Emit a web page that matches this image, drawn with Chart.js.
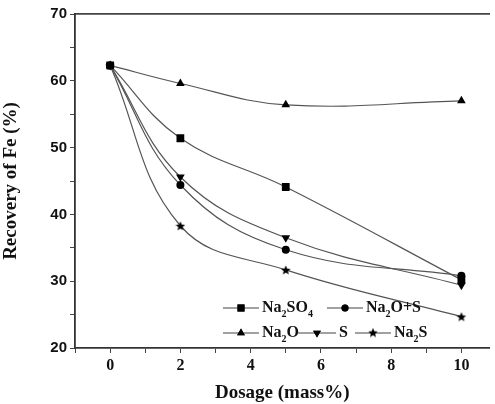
<!DOCTYPE html>
<html>
<head>
    <meta charset="UTF-8">
    <title>Recovery of Fe</title>
    <script src="https://cdn.jsdelivr.net/npm/chart.js"></script>
    <style>
        html, body { margin: 0; padding: 0; background: #fff; }
        #wrap { width: 495px; height: 404px; }
    </style>
</head>
<body>
    <div id="wrap"><canvas id="feChart"></canvas></div>

    <script>
        // 数据
        var dosage = [0, 2, 5, 10];
        var seriesNames = ['Na2SO4', 'Na2O+S', 'Na2O', 'S', 'Na2S'];
        var na2so4 = [62.3, 51.4, 44.1, 30.2];
        var na2oS = [62.3, 44.4, 34.7, 30.8];
        var na2o = [62.3, 59.6, 56.4, 57.0];
        var sulfur = [62.3, 45.6, 36.5, 29.4];
        var na2s = [62.3, 38.3, 31.7, 24.7];
        var yTicks = [20, 30, 40, 50, 60, 70];
        var xTicks = [0, 2, 4, 6, 8, 10];

        // 五角星点样式
        function makeStar(size) {
            var c = document.createElement('canvas');
            c.width = size; c.height = size;
            var g = c.getContext('2d');
            var cx = size / 2, cy = size / 2 + 0.5, ro = size / 2, ri = ro * 0.45;
            g.beginPath();
            for (var i = 0; i < 10; i++) {
                var r = i % 2 === 0 ? ro : ri;
                var a = -Math.PI / 2 + i * Math.PI / 5;
                g.lineTo(cx + r * Math.cos(a), cy + r * Math.sin(a));
            }
            g.closePath();
            g.fillStyle = '#000';
            g.fill();
            return c;
        }
        var starImg = makeStar(10);

        var markers = [
            { style: 'rect', rot: 0, r: 5.5 },
            { style: 'circle', rot: 0, r: 4 },
            { style: 'triangle', rot: 0, r: 5 },
            { style: 'triangle', rot: 180, r: 5 },
            { style: starImg, rot: 0, r: 5 }
        ];
        var allValues = [na2so4, na2oS, na2o, sulfur, na2s];

        var datasets = allValues.map(function (vals, i) {
            return {
                label: seriesNames[i],
                data: dosage.map(function (d, j) { return { x: d, y: vals[j] }; }),
                borderColor: '#555',
                borderWidth: 1.2,
                backgroundColor: '#000',
                pointBackgroundColor: '#000',
                pointBorderColor: '#000',
                pointBorderWidth: 0,
                pointStyle: markers[i].style,
                pointRotation: markers[i].rot,
                pointRadius: markers[i].r,
                tension: 0.4
            };
        });

        // 带下标的文字
        function drawRich(ctx, name, x, y) {
            ctx.textBaseline = 'middle';
            ctx.textAlign = 'left';
            for (var k = 0; k < name.length; k++) {
                var ch = name[k];
                if (/[0-9]/.test(ch)) {
                    ctx.font = 'bold 10px "Liberation Serif", serif';
                    ctx.fillText(ch, x, y + 6);
                } else {
                    ctx.font = 'bold 16px "Liberation Serif", serif';
                    ctx.fillText(ch, x, y);
                }
                x += ctx.measureText(ch).width;
            }
        }
        function drawMarker(ctx, i, x, y) {
            var m = markers[i];
            ctx.save();
            ctx.fillStyle = '#000';
            ctx.strokeStyle = '#000';
            if (m.style === starImg) {
                ctx.drawImage(starImg, x - 5, y - 5.5);
            } else {
                Chart.helpers.drawPoint(ctx, {
                    pointStyle: m.style, rotation: m.rot, radius: m.r - 0.5, borderWidth: 0
                }, x, y);
                ctx.fill();
            }
            ctx.restore();
        }

        // 图内图例
        var legendRows = [
            { y: 308, items: [[0, 223], [1, 327]] },
            { y: 333, items: [[2, 223], [3, 298], [4, 355]] }
        ];
        var insideLegend = {
            id: 'insideLegend',
            afterDatasetsDraw: function (chart) {
                var ctx = chart.ctx;
                ctx.save();
                legendRows.forEach(function (row) {
                    row.items.forEach(function (it) {
                        var i = it[0], x0 = it[1];
                        var lineLen = i === 3 ? 38 : 36;
                        ctx.strokeStyle = '#444';
                        ctx.lineWidth = 1.2;
                        ctx.beginPath();
                        ctx.moveTo(x0, row.y);
                        ctx.lineTo(x0 + lineLen, row.y);
                        ctx.stroke();
                        drawMarker(ctx, i, x0 + lineLen / 2, row.y);
                        ctx.fillStyle = '#111';
                        drawRich(ctx, seriesNames[i], x0 + lineLen + 3, row.y);
                    });
                });
                ctx.restore();
            }
        };

        var ctx = document.getElementById('feChart').getContext('2d');
        var feChart = new Chart(ctx, {
            type: 'line',
            data: { datasets: datasets },
            options: {
                responsive: true,
                maintainAspectRatio: false,
                animation: false,
                layout: { padding: 0 },
                plugins: {
                    legend: { display: false },
                    tooltip: { enabled: false }
                },
                scales: {
                    x: {
                        type: 'linear',
                        position: 'bottom',
                        min: -1,
                        max: 10.8,
                        afterBuildTicks: function (s) {
                            var t = [];
                            for (var v = -1; v <= 10; v++) t.push({ value: v });
                            s.ticks = t;
                        },
                        afterFit: function (s) { s.height = 56; },
                        grid: {
                            drawOnChartArea: false,
                            drawTicks: true,
                            tickLength: 5,
                            tickColor: '#444'
                        },
                        border: { display: true, color: '#333', width: 1.8 },
                        ticks: {
                            autoSkip: false,
                            maxRotation: 0,
                            padding: 3,
                            color: '#111',
                            font: { family: '"Liberation Serif", serif', weight: 'bold', size: 16 },
                            callback: function (v) { return xTicks.indexOf(v) >= 0 ? String(v) : ''; }
                        },
                        title: {
                            display: true,
                            text: 'Dosage (mass%)',
                            color: '#111',
                            font: { family: '"Liberation Serif", serif', weight: 'bold', size: 19 },
                            padding: { top: 2, bottom: 0 }
                        }
                    },
                    xTop: {
                        type: 'linear',
                        position: 'top',
                        min: -1,
                        max: 10.8,
                        afterFit: function (s) { s.height = 14; },
                        grid: { drawOnChartArea: false, drawTicks: false },
                        border: { display: true, color: '#444', width: 1.8 },
                        ticks: { display: false }
                    },
                    y: {
                        type: 'linear',
                        min: 20,
                        max: 70,
                        afterBuildTicks: function (s) {
                            var t = [];
                            for (var v = 20; v <= 70; v += 5) t.push({ value: v });
                            s.ticks = t;
                        },
                        afterFit: function (s) { s.width = 75; },
                        grid: {
                            drawOnChartArea: false,
                            drawTicks: true,
                            tickLength: 5,
                            tickColor: '#444'
                        },
                        border: { display: true, color: '#333', width: 1.8 },
                        ticks: {
                            padding: 3,
                            color: '#111',
                            font: { family: '"Liberation Sans", Arial, sans-serif', weight: 'bold', size: 15 },
                            callback: function (v) { return yTicks.indexOf(v) >= 0 ? String(v) : ''; }
                        },
                        title: {
                            display: true,
                            text: 'Recovery of Fe (%)',
                            color: '#111',
                            font: { family: '"Liberation Serif", serif', weight: 'bold', size: 19 },
                            padding: { top: 0, bottom: 4 }
                        }
                    }
                }
            },
            plugins: [insideLegend]
        });
    </script>
</body>
</html>
